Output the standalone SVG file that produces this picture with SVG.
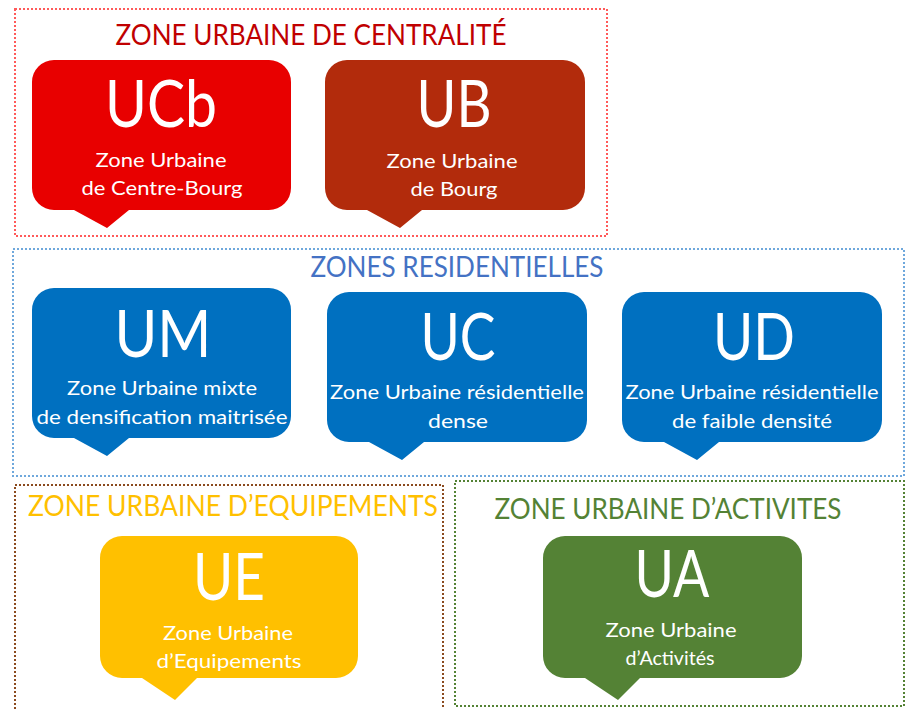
<svg xmlns="http://www.w3.org/2000/svg" width="906" height="709" viewBox="0 0 906 709">
<style>
.frame{fill:none;stroke-width:2;stroke-dasharray:2 2}
.title{font-family:Lato,"Open Sans",sans-serif;font-size:28px;text-anchor:middle}
.big{font-family:Lato,"Open Sans",sans-serif;font-size:65px;fill:#fff;text-anchor:middle}
.sub{font-family:Lato,"Open Sans",sans-serif;font-size:20px;fill:#fff;text-anchor:middle}
</style>
<rect width="906" height="709" fill="#fff"/>
<g id="frames">
<rect id="frame-centralite" class="frame" x="15" y="9" width="592" height="227" stroke="#FF5A5A"/>
<rect id="frame-residentielles" class="frame" x="13" y="249" width="891" height="227" stroke="#6FA8DC"/>
<rect id="frame-equipements" class="frame" x="15" y="485" width="428" height="230" stroke="#8B4A1E"/>
<rect id="frame-activites" class="frame" x="455" y="481" width="449" height="225" stroke="#548235"/>
</g>
<g id="titles">
<text class="title" x="311" y="45" fill="#C00000" textLength="391" lengthAdjust="spacingAndGlyphs">ZONE URBAINE DE CENTRALITÉ</text>
<text class="title" x="457" y="277" fill="#4472C4" textLength="293" lengthAdjust="spacingAndGlyphs">ZONES RESIDENTIELLES</text>
<text class="title" x="233" y="516" fill="#FFC000" textLength="410" lengthAdjust="spacingAndGlyphs">ZONE URBAINE D’EQUIPEMENTS</text>
<text class="title" x="668" y="519" fill="#548235" textLength="347" lengthAdjust="spacingAndGlyphs">ZONE URBAINE D’ACTIVITES</text>
</g>
<g id="connectors"></g>
<g id="node-UCb">
<path fill="#E80000" d="M54,60 H269 A22,22 0 0 1 291,82 V188 A22,22 0 0 1 269,210 H129 L107,228 L74,210 H54 A22,22 0 0 1 32,188 V82 A22,22 0 0 1 54,60 Z"/>
<text class="big" x="161" y="127" textLength="112" lengthAdjust="spacingAndGlyphs">UCb</text>
<text class="sub" x="161" y="167" textLength="131" lengthAdjust="spacingAndGlyphs">Zone Urbaine</text>
<text class="sub" x="162" y="195" textLength="161" lengthAdjust="spacingAndGlyphs">de Centre-Bourg</text>
</g>
<g id="node-UB">
<path fill="#B22B0C" d="M347,60 H563 A22,22 0 0 1 585,82 V188 A22,22 0 0 1 563,210 H422 L400,228 L367,210 H347 A22,22 0 0 1 325,188 V82 A22,22 0 0 1 347,60 Z"/>
<text class="big" x="454" y="127" textLength="75" lengthAdjust="spacingAndGlyphs">UB</text>
<text class="sub" x="452" y="168" textLength="131" lengthAdjust="spacingAndGlyphs">Zone Urbaine</text>
<text class="sub" x="454" y="196" textLength="87" lengthAdjust="spacingAndGlyphs">de Bourg</text>
</g>
<g id="node-UM">
<path fill="#0070C0" d="M54,288 H269 A22,22 0 0 1 291,310 V416 A22,22 0 0 1 269,438 H129 L107,456 L74,438 H54 A22,22 0 0 1 32,416 V310 A22,22 0 0 1 54,288 Z"/>
<text class="big" x="163" y="357" textLength="97" lengthAdjust="spacingAndGlyphs">UM</text>
<text class="sub" x="162" y="395" textLength="190" lengthAdjust="spacingAndGlyphs">Zone Urbaine mixte</text>
<text class="sub" x="162" y="424" textLength="251" lengthAdjust="spacingAndGlyphs">de densification maitrisée</text>
</g>
<g id="node-UC">
<path fill="#0070C0" d="M349,292 H565 A22,22 0 0 1 587,314 V420 A22,22 0 0 1 565,442 H424 L402,460 L369,442 H349 A22,22 0 0 1 327,420 V314 A22,22 0 0 1 349,292 Z"/>
<text class="big" x="458" y="360" textLength="75" lengthAdjust="spacingAndGlyphs">UC</text>
<text class="sub" x="457" y="399" textLength="254" lengthAdjust="spacingAndGlyphs">Zone Urbaine résidentielle</text>
<text class="sub" x="458" y="428" textLength="60" lengthAdjust="spacingAndGlyphs">dense</text>
</g>
<g id="node-UD">
<path fill="#0070C0" d="M644,292 H860 A22,22 0 0 1 882,314 V420 A22,22 0 0 1 860,442 H719 L697,460 L664,442 H644 A22,22 0 0 1 622,420 V314 A22,22 0 0 1 644,292 Z"/>
<text class="big" x="754" y="360" textLength="82" lengthAdjust="spacingAndGlyphs">UD</text>
<text class="sub" x="752" y="399" textLength="253" lengthAdjust="spacingAndGlyphs">Zone Urbaine résidentielle</text>
<text class="sub" x="752" y="428" textLength="160" lengthAdjust="spacingAndGlyphs">de faible densité</text>
</g>
<g id="node-UE">
<path fill="#FFC000" d="M122,536 H336 A22,22 0 0 1 358,558 V656 A22,22 0 0 1 336,678 H197 L175,700 L142,678 H122 A22,22 0 0 1 100,656 V558 A22,22 0 0 1 122,536 Z"/>
<text class="big" x="229" y="600" textLength="72" lengthAdjust="spacingAndGlyphs">UE</text>
<text class="sub" x="228" y="640" textLength="130" lengthAdjust="spacingAndGlyphs">Zone Urbaine</text>
<text class="sub" x="229" y="668" textLength="145" lengthAdjust="spacingAndGlyphs">d’Equipements</text>
</g>
<g id="node-UA">
<path fill="#548235" d="M565,536 H780 A22,22 0 0 1 802,558 V656 A22,22 0 0 1 780,678 H640 L618,700 L585,678 H565 A22,22 0 0 1 543,656 V558 A22,22 0 0 1 565,536 Z"/>
<text class="big" x="672" y="597" textLength="75" lengthAdjust="spacingAndGlyphs">UA</text>
<text class="sub" x="671" y="637" textLength="131" lengthAdjust="spacingAndGlyphs">Zone Urbaine</text>
<text class="sub" x="670" y="665" textLength="89" lengthAdjust="spacingAndGlyphs">d’Activités</text>
</g>
</svg>
